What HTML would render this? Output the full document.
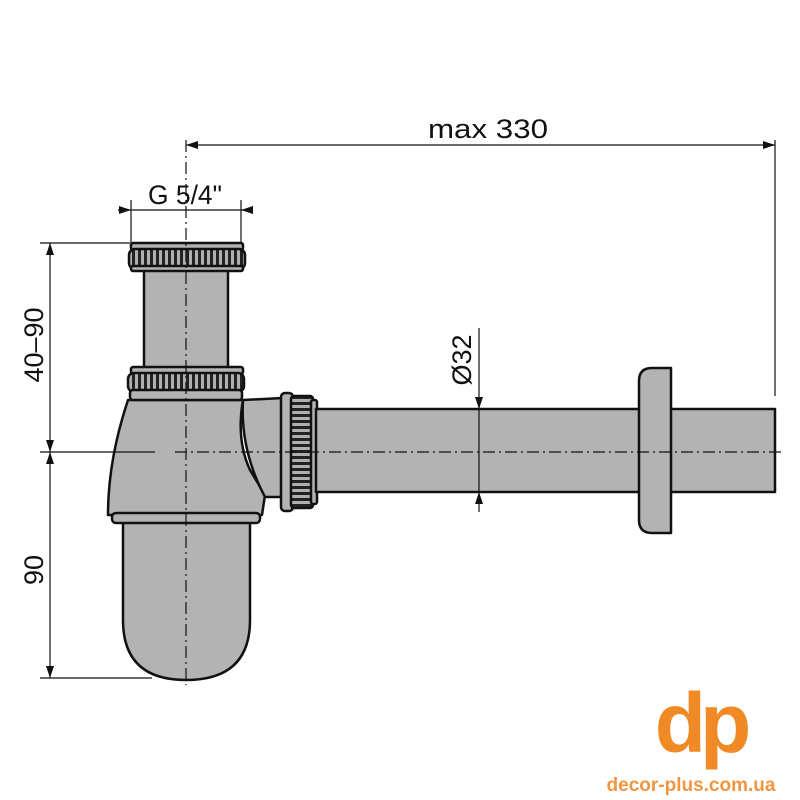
<!DOCTYPE html>
<html><head><style>body{margin:0;background:#fff}svg{display:block}</style></head><body>
<svg width="800" height="800" viewBox="0 0 800 800" xmlns="http://www.w3.org/2000/svg" font-family="Liberation Sans, sans-serif">
<defs>
<pattern id="teeth" width="6" height="10" patternUnits="userSpaceOnUse"><rect width="6" height="10" fill="#b0b0b0"/><rect x="0" width="3" height="10" fill="#222"/></pattern>
<pattern id="teethH" width="10" height="6" patternUnits="userSpaceOnUse"><rect width="10" height="6" fill="#b0b0b0"/><rect y="0" width="10" height="3" fill="#222"/></pattern>
</defs>
<rect width="800" height="800" fill="#fff"/>
<g stroke="#111" stroke-width="2.5" fill="#b3b3b3" stroke-linejoin="round">
<path d="M123 522 L123 620 Q123 680 186 680 Q250 680 250 620 L250 522 Z"/>
<path d="M128 400 L243 400 Q236 440 250 470 L265 495 L262 515 L108 515 Q108 460 128 400 Z"/>
<rect x="112" y="513" width="148" height="10" rx="4"/>
<path d="M243 400 L283 398 L283 497 L265 497 Q240 450 243 400 Z"/>
<rect x="281" y="393" width="12" height="118" rx="4"/>
<rect x="291" y="396" width="22" height="112" rx="3" fill="url(#teethH)"/>
<rect x="311" y="400" width="6" height="104" rx="2"/>
<rect x="316" y="409" width="459" height="83"/>
<path d="M652 368 L671 368 L671 533 L652 533 Q639 533 639 520 L639 381 Q639 368 652 368 Z"/>
<rect x="144" y="269" width="84" height="100"/>
<rect x="131" y="243" width="112" height="7" rx="2"/>
<rect x="129" y="249" width="116" height="20" rx="6" fill="url(#teeth)"/>
<rect x="131" y="266" width="112" height="5" rx="2"/>
<rect x="131" y="367" width="112" height="7" rx="2"/>
<rect x="128" y="373" width="116" height="19" rx="6" fill="url(#teeth)"/>
<rect x="130" y="390" width="112" height="10" rx="3"/>
</g>
<g stroke="#111" stroke-width="1.2" stroke-dasharray="12,4,2,4" fill="none">
<line x1="186" y1="140" x2="186" y2="685"/>
<line x1="175" y1="452" x2="782" y2="452"/>
</g>
<g stroke="#111" stroke-width="1.2" fill="none">
<line x1="775" y1="140" x2="775" y2="396"/>
<line x1="186" y1="145" x2="775" y2="145"/>
<line x1="131" y1="200" x2="131" y2="243"/>
<line x1="241" y1="200" x2="241" y2="243"/>
<line x1="118" y1="210" x2="252" y2="210"/>
<line x1="40" y1="243" x2="130" y2="243"/>
<line x1="40" y1="452" x2="155" y2="452"/>
<line x1="40" y1="678" x2="152" y2="678"/>
<line x1="50" y1="243" x2="50" y2="678"/>
<line x1="479" y1="328" x2="479" y2="512"/>
</g>
<g fill="#111">
<path d="M186 145 l12 -4 v8z"/><path d="M775 145 l-12 -4 v8z"/>
<path d="M131 210 l-12 -4 v8z"/><path d="M241 210 l12 -4 v8z"/>
<path d="M50 243 l-4 12 h8z"/><path d="M50 452 l-4 -12 h8z"/><path d="M50 452 l-4 12 h8z"/><path d="M50 678 l-4 -12 h8z"/>
<path d="M479 409 l-4 -12 h8z"/><path d="M479 492 l-4 12 h8z"/>
</g>
<g fill="#111" font-size="27">
<text x="488" y="138" text-anchor="middle" textLength="120" lengthAdjust="spacingAndGlyphs">max 330</text>
<text x="185" y="204" text-anchor="middle" textLength="74" lengthAdjust="spacingAndGlyphs">G 5/4"</text>
<text transform="translate(43,345) rotate(-90)" text-anchor="middle">40–90</text>
<text transform="translate(43,570) rotate(-90)" text-anchor="middle">90</text>
<text transform="translate(471,360) rotate(-90)" text-anchor="middle">Ø32</text>
</g>
<g fill="#f08a24">
<text x="700" y="752" text-anchor="middle" font-size="84" font-weight="bold" letter-spacing="-6">dp</text>
<text x="691" y="791" text-anchor="middle" font-size="19" font-weight="bold" fill="#f29540">decor-plus.com.ua</text>
</g>
</svg>
</body></html>
